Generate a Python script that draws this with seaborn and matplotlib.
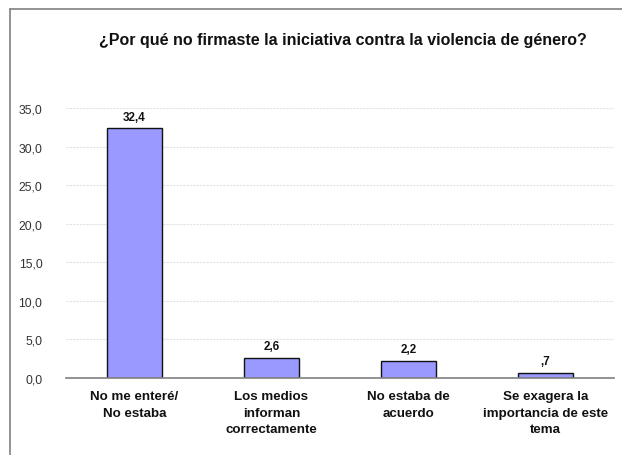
import matplotlib
matplotlib.use("Agg")
import matplotlib.pyplot as plt
import seaborn as sns
import pandas as pd
from matplotlib.lines import Line2D
from matplotlib.ticker import FixedLocator, FuncFormatter

categories = ["No me enteré/\nNo estaba", "Los medios\ninforman\ncorrectamente",
              "No estaba de\nacuerdo", "Se exagera la\nimportancia de este\ntema"]
values = [32.4, 2.6, 2.2, 0.7]
value_labels = ["32,4", "2,6", "2,2", ",7"]
title = "¿Por qué no firmaste la iniciativa contra la violencia de género?"

sns.set_theme(style="white")
plt.rcParams['font.family'] = ['Liberation Sans', 'DejaVu Sans']

df = pd.DataFrame({"cat": categories, "val": values})

fig = plt.figure(figsize=(6.22, 4.56), dpi=100)
ax = fig.add_axes([66/622, 1-379/456, (614-66)/622, (379-109)/456])

sns.barplot(data=df, x="cat", y="val", color="#9999FF", edgecolor="#111111",
            linewidth=1.0, width=0.4, saturation=1, ax=ax)

ax.set_ylim(0, 35)
ax.set_xlim(-0.5, 3.5)
ax.set_yticks([0, 5, 10, 15, 20, 25, 30, 35])
ax.yaxis.set_major_formatter(FuncFormatter(lambda v, p: f"{v:.1f}".replace(".", ",")))
ax.tick_params(axis="y", length=0, labelsize=8.8, colors="#333333", pad=17)
ax.yaxis.grid(True, color="#e2e2e2", linewidth=0.8, linestyle=(0, (2, 1)))
ax.set_axisbelow(True)

ax.set_xticks(range(len(categories)))
ax.set_xticklabels(categories, fontweight="bold", fontsize=9.6, linespacing=1.45, color="#111111")
ax.tick_params(axis="x", length=0, pad=9)
ax.xaxis.set_minor_locator(FixedLocator([-0.5, 0.5, 1.5, 2.5, 3.5]))
ax.tick_params(axis="x", which="minor", length=4, color="#808080", width=1, direction="out")

ax.set_xlabel("")
ax.set_ylabel("")
for s in ["left", "top", "right"]:
    ax.spines[s].set_visible(False)
ax.spines["bottom"].set_color("#808080")
ax.spines["bottom"].set_linewidth(1.2)

for i, (v, lab) in enumerate(zip(values, value_labels)):
    ax.annotate(lab, (i, v), xytext=(0, 4), textcoords="offset points",
                ha="center", va="bottom", fontsize=8.4, fontweight="bold", color="#111111")

fig.text(343/622, 1-40/456, title, ha="center", va="center", fontsize=11.5,
         fontweight="bold", color="#111111")

# outer frame (left & top)
fig.add_artist(Line2D([10/622, 10/622], [0, 1-10/456], transform=fig.transFigure, color="#808080", lw=1.2))
fig.add_artist(Line2D([10/622, 1], [1-10/456, 1-10/456], transform=fig.transFigure, color="#808080", lw=1.2))

fig.savefig("out.png", dpi=100)
